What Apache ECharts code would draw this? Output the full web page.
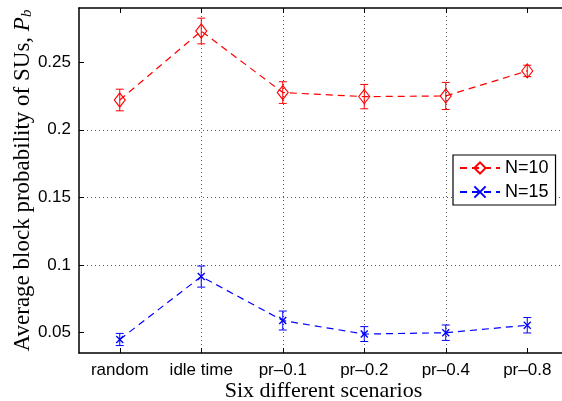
<!DOCTYPE html>
<html>
<head>
<meta charset="utf-8">
<script src="https://cdn.jsdelivr.net/npm/echarts@6/dist/echarts.min.js"></script>
<style>
  html, body { margin: 0; padding: 0; background: #fff; }
  #chart { width: 562px; height: 401px; }
</style>
</head>
<body>
<div id="chart"></div>
<script>
// Scenario names along the x axis
const categories = ['random', 'idle time', 'pr\u20130.1', 'pr\u20130.2', 'pr\u20130.4', 'pr\u20130.8'];
// Y tick values
const yTicks = [0.05, 0.1, 0.15, 0.2, 0.25];
// Mean block probability and half-width of the error bar, N = 10
const n10Mean = [0.222, 0.273, 0.2275, 0.2245, 0.225, 0.2435];
const n10Err = [0.008, 0.0095, 0.008, 0.009, 0.010, 0.0042];
// Mean block probability and half-width of the error bar, N = 15
const n15Mean = [0.045, 0.0915, 0.059, 0.049, 0.050, 0.0555];
const n15Err = [0.0045, 0.0078, 0.007, 0.0055, 0.0057, 0.0057];

const xPos = categories.map((_, i) => i + 1);
const RED = '#ff0000';
const BLUE = '#0000ff';
const SANS = 'Liberation Sans';
const SERIF = 'Liberation Serif';

function points(means) {
  return means.map((v, i) => [xPos[i], v]);
}
function bars(means, errs) {
  return means.map((v, i) => [xPos[i], v - errs[i], v + errs[i]]);
}
// Vertical error bar with short caps at both ends
function errorBar(color) {
  return function (params, api) {
    const x = api.value(0);
    const lo = api.coord([x, api.value(1)]);
    const hi = api.coord([x, api.value(2)]);
    const w = 4;
    const style = { stroke: color, lineWidth: 1 };
    return {
      type: 'group',
      children: [
        { type: 'line', shape: { x1: lo[0], y1: lo[1], x2: hi[0], y2: hi[1] }, style },
        { type: 'line', shape: { x1: lo[0] - w, y1: lo[1], x2: lo[0] + w, y2: lo[1] }, style },
        { type: 'line', shape: { x1: hi[0] - w, y1: hi[1], x2: hi[0] + w, y2: hi[1] }, style }
      ]
    };
  };
}

const dotted = { color: '#555', type: [1, 3], width: 1 };

const baseX = {
  type: 'value',
  min: 0.5,
  max: 6.5,
  axisLine: { show: true, onZero: false, lineStyle: { color: '#000', width: 1.5 } },
  axisTick: { show: true, inside: true, length: 5, customValues: xPos, lineStyle: { color: '#000' } },
  axisLabel: {
    customValues: xPos,
    margin: 9,
    fontFamily: SANS, fontSize: 17, color: '#000',
    formatter: v => categories[Math.round(v) - 1] || ''
  }
};

const chart = echarts.init(document.getElementById('chart'), null, { renderer: 'canvas' });
chart.setOption({
  animation: false,
  backgroundColor: '#fff',
  grid: { left: 79, right: -6, top: 8, bottom: 48, containLabel: false, outerBoundsMode: 'none' },
  legend: {
    orient: 'vertical',
    left: 453, top: 155,
    padding: [4, 7, 4, 6],
    itemWidth: 40, itemHeight: 14, itemGap: 6,
    borderColor: '#000', borderWidth: 1.2,
    backgroundColor: '#fff',
    textStyle: { fontFamily: SANS, fontSize: 18, color: '#000', lineHeight: 18 },
    data: ['N=10', 'N=15']
  },
  xAxis: [
    Object.assign({}, baseX, {
      position: 'bottom',
      name: 'Six different scenarios',
      nameLocation: 'middle',
      nameGap: 27,
      nameMoveOverlap: false,
      nameTextStyle: { fontFamily: SERIF, fontSize: 22, color: '#000', verticalAlign: 'top' },
      splitLine: { show: true, showMinLine: false, showMaxLine: false, lineStyle: dotted }
    }),
    Object.assign({}, baseX, {
      position: 'top',
      axisLabel: { show: false },
      splitLine: { show: false }
    })
  ],
  yAxis: {
    type: 'value',
    min: 0.035,
    max: 0.29,
    axisLine: { show: true, onZero: false, lineStyle: { color: '#000', width: 1.5 } },
    axisTick: { show: true, inside: true, length: 5, customValues: yTicks, lineStyle: { color: '#000' } },
    axisLabel: {
      customValues: yTicks,
      margin: 8,
      fontFamily: SANS, fontSize: 17, color: '#000',
      formatter: v => String(+v.toFixed(2))
    },
    splitLine: { show: true, showMinLine: false, showMaxLine: false, lineStyle: dotted },
    name: 'Average block probability of SUs, {i|P}{s|b}',
    nameLocation: 'middle',
    nameGap: 44,
    nameMoveOverlap: false,
    nameTextStyle: {
      fontFamily: SERIF, fontSize: 23, color: '#000',
      rich: {
        i: { fontFamily: SERIF, fontSize: 23, fontStyle: 'italic', color: '#000' },
        s: { fontFamily: SERIF, fontSize: 15, fontStyle: 'italic', color: '#000', verticalAlign: 'bottom', padding: [9, 0, 0, 0] }
      }
    }
  },
  series: [
    {
      name: 'N=10',
      type: 'line',
      data: points(n10Mean),
      color: RED,
      symbol: 'diamond',
      symbolSize: [11, 14],
      itemStyle: { color: 'rgba(255,255,255,0)', borderColor: RED, borderWidth: 1.1 },
      lineStyle: { color: RED, width: 1.2, type: [7, 5] },
      z: 3
    },
    {
      name: 'N=15',
      type: 'line',
      data: points(n15Mean),
      color: BLUE,
      symbol: 'path://M0,0L10,10M10,0L0,10',
      symbolSize: 7,
      itemStyle: { color: BLUE, borderColor: BLUE, borderWidth: 1.4 },
      lineStyle: { color: BLUE, width: 1.2, type: [7, 5] },
      z: 3
    },
    {
      name: 'err10',
      type: 'custom',
      renderItem: errorBar(RED),
      data: bars(n10Mean, n10Err),
      encode: { x: 0, y: [1, 2] },
      z: 2
    },
    {
      name: 'err15',
      type: 'custom',
      renderItem: errorBar(BLUE),
      data: bars(n15Mean, n15Err),
      encode: { x: 0, y: [1, 2] },
      z: 2
    }
  ]
});
</script>
</body>
</html>
